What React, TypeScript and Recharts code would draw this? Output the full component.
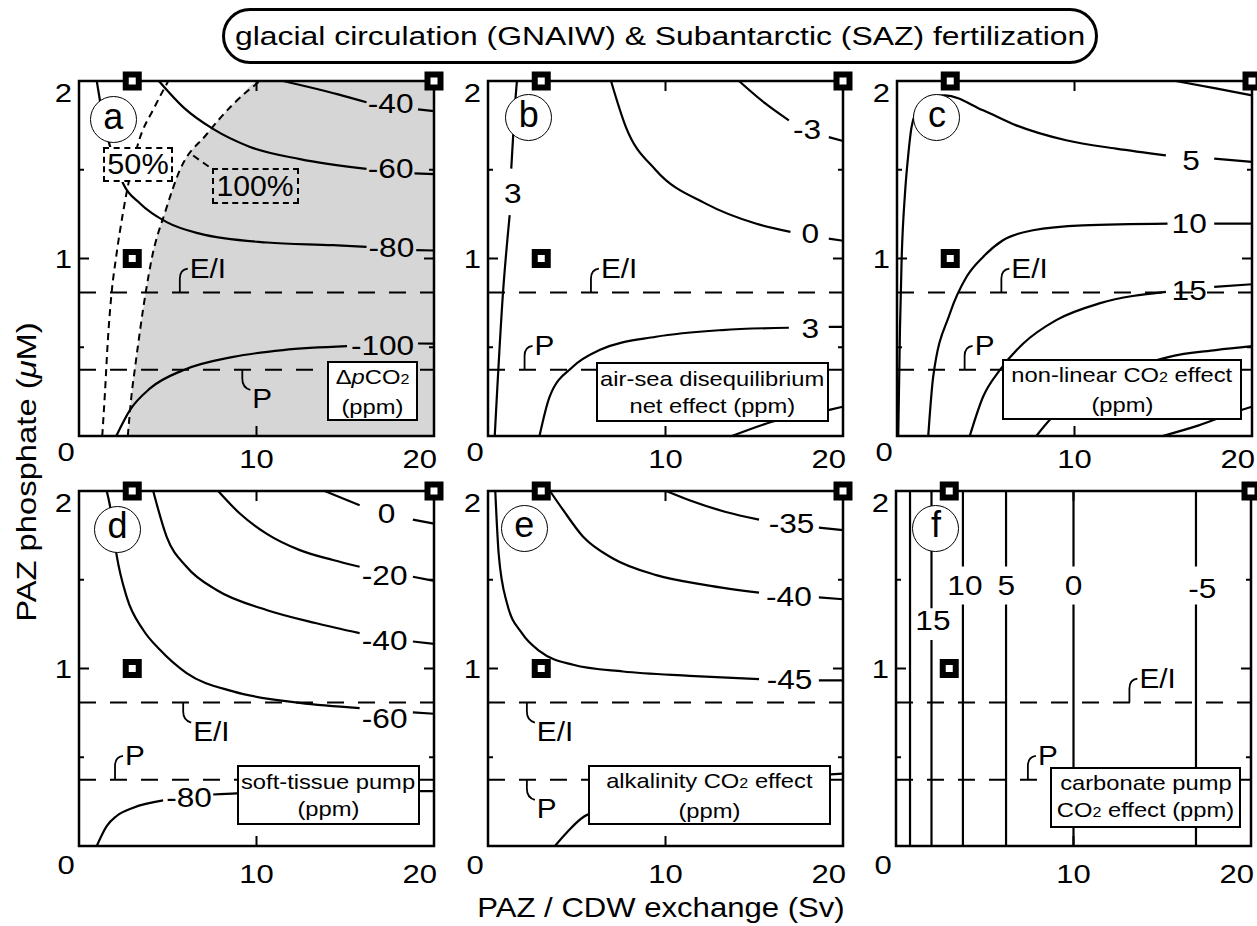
import React from "react";
import {
  ComposedChart,
  Line,
  Area,
  Scatter,
  XAxis,
  YAxis,
  ReferenceLine,
  ReferenceArea,
  ReferenceDot,
} from "recharts";

type Pt = [number, number] | null;
type Tag = [string, number, number];
type Hook = [string, number, "up" | "down"];

const FONT = "'Liberation Sans', Arial, Helvetica, sans-serif";
const PW = 355;
const PH = 355;
const ML = 75;
const MT = 20;
const MR = 25;
const XH = 45;
const GREY = "#d6d6d6";

const X_TICKS = [0, 10, 20];
const Y_TICKS = [0, 0.5, 1, 1.5, 2];
const STATIONS: Pt[] = [[3, 2], [3, 1], [20, 2]];
const EI_LEVEL = 0.808;
const P_LEVEL = 0.373;

// (a) delta pCO2
const A_FIFTY: Pt[] = [[1.31, 0], [1.46, 0.24], [1.62, 0.53], [1.84, 0.81], [2.08, 1.0], [2.5, 1.27], [3.4, 1.67], [4.19, 1.84], [5.03, 2.0]];
const A_HUNDRED: Pt[] = [[2.75, 0], [2.97, 0.24], [3.15, 0.38], [3.76, 0.81], [4.1, 1.0], [4.88, 1.27], [5.69, 1.5], [7.19, 1.7], [8.69, 1.87], [10.2, 2.0]];
const A_LEADER: Pt[] = [[6.43, 1.58], [7.56, 1.5]];
const A_M40: Pt[] = [[11.5, 2.0], [13, 1.965], [14.6, 1.925], [16.2, 1.88], null, [19.1, 1.84], [20, 1.83]];
const A_M60: Pt[] = [[4.5, 2.0], [5.9, 1.85], [7.55, 1.73], [9.6, 1.63], [12.45, 1.56], [16.2, 1.505], null, [18.9, 1.48], [20, 1.475]];
const A_M80: Pt[] = [[1.0, 2.0], [1.18, 1.89], [2.5, 1.42], [3.44, 1.31], [4.94, 1.205], [6.8, 1.14], [10.6, 1.09], [14.3, 1.075], [16.2, 1.065], null, [19.0, 1.047], [20, 1.045]];
const A_M100: Pt[] = [[2.1, 0], [2.87, 0.146], [4.0, 0.268], [5.87, 0.371], [8.7, 0.446], [11.5, 0.484], [15.1, 0.506], null, [19.1, 0.521], [20, 0.52]];
const A_TAGS: Tag[] = [["-40", 17.56, 1.872], ["-60", 17.56, 1.506], ["-80", 17.6, 1.065], ["-100", 17.1, 0.512]];

// (b) air-sea disequilibrium
const B_THREE_L: Pt[] = [[0.38, 0], [0.84, 0.8], [1.22, 1.244], null, [1.31, 1.506], [1.5, 1.835], [1.63, 2.0]];
const B_ZERO: Pt[] = [[6.93, 2.0], [7.77, 1.74], [9.46, 1.497], [12.27, 1.309], [15.08, 1.197], [17.04, 1.15], null, [19.2, 1.112], [20, 1.1]];
const B_M3: Pt[] = [[14.14, 2.0], [15.64, 1.872], [16.95, 1.778], null, [19.2, 1.684], [20, 1.662]];
const B_THREE_R: Pt[] = [[2.9, 0], [3.47, 0.221], [4.78, 0.39], [6.28, 0.484], [9.46, 0.559], [13.2, 0.597], [16.95, 0.61], null, [19.2, 0.615], [20, 0.615]];
const B_SIX: Pt[] = [[13.74, 0], [16.0, 0.08], [19.17, 0.146], [20, 0.165]];
const B_TAGS: Tag[] = [["-3", 17.98, 1.73], ["3", 1.4, 1.366], ["0", 18.15, 1.14], ["3", 18.15, 0.606]];

// (c) non-linear CO2 effect
const C_FIVE: Pt[] = [[0.07, 0], [0.17, 0.615], [0.26, 0.99], [0.45, 1.366], [0.64, 1.59], [0.82, 1.74], [1.3, 1.87], [2.0, 1.915], [2.7, 1.919], [4.85, 1.835], [6.72, 1.75], [9.53, 1.666], [12.34, 1.619], [15.15, 1.581], null, [17.87, 1.563], [20, 1.544]];
const C_TOP: Pt[] = [[15.7, 2.0], [17.96, 1.958], [20, 1.919]];
const C_TEN: Pt[] = [[1.76, 0], [2.04, 0.334], [2.98, 0.69], [3.92, 0.897], [4.85, 1.009], [5.97, 1.103], [7.66, 1.159], [10.47, 1.187], [15.24, 1.197], null, [17.87, 1.197], [20, 1.197]];
const C_FIFTEEN: Pt[] = [[4.1, 0], [4.85, 0.221], [5.79, 0.371], [7.1, 0.52], [8.97, 0.653], [11.4, 0.747], [15.15, 0.812], null, [17.87, 0.84], [20, 0.855]];
const C_TWENTY: Pt[] = [[7.85, 0], [8.6, 0.09], [15.34, 0.446], [17.96, 0.484], [20, 0.506]];
const C_TWENTYFIVE: Pt[] = [[14.96, 0], [17.0, 0.06], [19.37, 0.146], [20, 0.165]];
const C_TAGS: Tag[] = [["5", 16.56, 1.553], ["10", 16.46, 1.197], ["15", 16.46, 0.82]];

// (d) soft-tissue pump
const D_ZERO: Pt[] = [[13.84, 2.0], [15.81, 1.92], null, [18.81, 1.839], [20, 1.816]];
const D_M20: Pt[] = [[7.84, 2.0], [9.06, 1.873], [10.56, 1.76], [12.44, 1.667], [14.31, 1.611], [15.81, 1.573], null, [18.81, 1.517], [20, 1.494]];
const D_M40: Pt[] = [[4.18, 2.0], [4.94, 1.742], [6.06, 1.573], [7.75, 1.442], [10.56, 1.33], [13.38, 1.255], [15.81, 1.199], null, [18.81, 1.152], [20, 1.139]];
const D_M60: Pt[] = [[1.56, 2.0], [1.74, 1.92], [2.12, 1.639], [2.68, 1.405], [3.62, 1.217], [4.56, 1.105], [6.06, 0.974], [8.68, 0.871], [12.44, 0.806], [15.81, 0.777], null, [18.81, 0.753], [20, 0.745]];
const D_M80: Pt[] = [[1.0, 0], [1.56, 0.112], [2.12, 0.169], [3.06, 0.216], [4.74, 0.257], null, [7.56, 0.29], [8.87, 0.296], [19.19, 0.309], [20, 0.309]];
const D_TAGS: Tag[] = [["0", 17.32, 1.873], ["-20", 17.22, 1.526], ["-40", 17.22, 1.161], ["-60", 17.22, 0.721], ["-80", 6.2, 0.272]];

// (e) alkalinity CO2 effect
const E_M35: Pt[] = [[10.04, 2.0], [11.35, 1.948], [13.4, 1.882], [15.27, 1.839], null, [18.64, 1.794], [20, 1.78]];
const E_M40: Pt[] = [[3.49, 2.0], [4.24, 1.892], [5.36, 1.742], [7.04, 1.62], [9.48, 1.526], [12.28, 1.47], [15.27, 1.427], null, [18.64, 1.401], [20, 1.39]];
const E_M45: Pt[] = [[0.41, 2.0], [0.6, 1.648], [1.07, 1.367], [1.91, 1.199], [2.93, 1.096], [4.8, 1.021], [7.6, 0.983], [11.35, 0.959], [15.27, 0.94], null, [18.64, 0.933], [20, 0.933]];
const E_M50: Pt[] = [[3.77, 0], [4.43, 0.075], [5.64, 0.178], [19.29, 0.403], [20, 0.408]];
const E_TAGS: Tag[] = [["-35", 17.1, 1.817], ["-40", 16.95, 1.408], ["-45", 16.99, 0.937]];

// (f) carbonate pump
const F_TWENTY: Pt[] = [[0.79, 0], [0.79, 2]];
const F_FIFTEEN: Pt[] = [[2.0, 0], [2.0, 1.16], null, [2.0, 1.34], [2.0, 2]];
const F_TEN: Pt[] = [[3.77, 0], [3.77, 1.36], null, [3.77, 1.575], [3.77, 2]];
const F_FIVE: Pt[] = [[6.2, 0], [6.2, 1.36], null, [6.2, 1.575], [6.2, 2]];
const F_ZERO: Pt[] = [[10, 0], [10, 1.36], null, [10, 1.575], [10, 2]];
const F_M5: Pt[] = [[16.9, 0], [16.9, 1.36], null, [16.9, 1.575], [16.9, 2]];
const F_TAGS: Tag[] = [["15", 2.08, 1.274], ["10", 3.88, 1.47], ["5", 6.22, 1.47], ["0", 10.0, 1.47], ["-5", 17.26, 1.452]];

const CO2 = (
  <>
    CO<span style={{ fontSize: "0.68em" }}>2</span>
  </>
);

interface Panel {
  id: string;
  left: number;
  top: number;
  row: number;
  lines: Pt[][];
  curve: "monotone" | "linear";
  tags: Tag[];
  hooks: Hook[];
  circle: [number, number];
  box: { dx: number; dy: number; w: number; h: number; text: React.ReactNode[] };
  dashed?: Pt[][];
  shade?: Pt[];
}

const PANELS: Panel[] = [
  {
    id: "a", left: 79, top: 80.5, row: 0, curve: "monotone",
    lines: [A_M40, A_M60, A_M80, A_M100], dashed: [A_FIFTY, A_HUNDRED, A_LEADER], shade: A_HUNDRED,
    tags: A_TAGS, hooks: [["E/I", 5.68, "up"], ["P", 9.2, "down"]], circle: [1.93, 1.78],
    box: { dx: 248, dy: 280.5, w: 91, h: 60, text: [<>Δ<i>p</i>{CO2}</>, "(ppm)"] },
  },
  {
    id: "b", left: 488, top: 80.5, row: 0, curve: "monotone",
    lines: [B_THREE_L, B_ZERO, B_M3, B_THREE_R, B_SIX],
    tags: B_TAGS, hooks: [["E/I", 5.8, "up"], ["P", 2.06, "up"]], circle: [2.29, 1.79],
    box: { dx: 108, dy: 281, w: 233, h: 60, text: ["air-sea disequilibrium", "net effect (ppm)"] },
  },
  {
    id: "c", left: 897, top: 80.5, row: 0, curve: "monotone",
    lines: [C_FIVE, C_TOP, C_TEN, C_FIFTEEN, C_TWENTY, C_TWENTYFIVE],
    tags: C_TAGS, hooks: [["E/I", 5.88, "up"], ["P", 3.81, "up"]], circle: [2.25, 1.79],
    box: { dx: 105, dy: 278.5, w: 240, h: 61, text: [<>non-linear {CO2} effect</>, "(ppm)"] },
  },
  {
    id: "d", left: 79, top: 491, row: 1, curve: "monotone",
    lines: [D_ZERO, D_M20, D_M40, D_M60, D_M80],
    tags: D_TAGS, hooks: [["E/I", 5.87, "down"], ["P", 2.03, "up"]], circle: [2.17, 1.785],
    box: { dx: 158, dy: 274, w: 183, h: 60, text: ["soft-tissue pump", "(ppm)"] },
  },
  {
    id: "e", left: 488, top: 491, row: 1, curve: "monotone",
    lines: [E_M35, E_M40, E_M45, E_M50],
    tags: E_TAGS, hooks: [["E/I", 2.19, "down"], ["P", 2.19, "down"]], circle: [2.04, 1.79],
    box: { dx: 100, dy: 274, w: 243, h: 60, text: [<>alkalinity {CO2} effect</>, "(ppm)"] },
  },
  {
    id: "f", left: 896, top: 491, row: 1, curve: "linear",
    lines: [F_TWENTY, F_FIFTEEN, F_TEN, F_FIVE, F_ZERO, F_M5],
    tags: F_TAGS, hooks: [["E/I", 13.15, "up"], ["P", 7.43, "up"]], circle: [2.25, 1.79],
    box: { dx: 154, dy: 276, w: 191, h: 61, text: ["carbonate pump", <>{CO2} effect (ppm)</>] },
  },
];

function rows(pts: Pt[]) {
  let lastX = 0;
  return pts.map((p) => {
    if (!p) return { x: lastX, y: null };
    lastX = p[0];
    return { x: p[0], y: p[1] };
  });
}

const BASE = [32, 37];
const ZERO_BASE = [25, 28];

function XTick(props: any) {
  const { x, y, payload, row } = props;
  const v = payload.value as number;
  let tx = x;
  let ty = y + BASE[row];
  let anchor: "middle" | "end" = "middle";
  if (v === 0) {
    tx = x - 13;
    ty = y + ZERO_BASE[row];
  }
  if (v === 20) {
    tx = x + 3;
    anchor = "end";
  }
  return (
    <g>
      {v === 10 && <line x1={x} y1={y} x2={x} y2={y - 10} stroke="#000" strokeWidth={2} />}
      {v === 10 && <line x1={x} y1={y - PH} x2={x} y2={y - PH + 10} stroke="#000" strokeWidth={2} />}
      <text transform={`translate(${tx},${ty}) scale(1.17,1)`} textAnchor={anchor} fontSize={26.5} fontFamily={FONT} fill="#000">
        {v}
      </text>
    </g>
  );
}

function YTick(props: any) {
  const { x, y, payload } = props;
  const v = payload.value as number;
  const len = v === 1 ? 10 : v === 0.5 || v === 1.5 ? 5 : 0;
  return (
    <g>
      {len > 0 && <line x1={x} y1={y} x2={x + len} y2={y} stroke="#000" strokeWidth={2} />}
      {len > 0 && <line x1={x + PW} y1={y} x2={x + PW - len} y2={y} stroke="#000" strokeWidth={2} />}
      {(v === 1 || v === 2) && (
        <text transform={`translate(${x - 7},${y + (v === 2 ? 21 : 9)}) scale(1.17,1)`} textAnchor="end" fontSize={26.5} fontFamily={FONT} fill="#000">
          {v}
        </text>
      )}
    </g>
  );
}

const squareShape = (p: any) => (
  <rect x={p.cx - 6.5} y={p.cy - 6.5} width={13} height={13} fill="#fff" stroke="#000" strokeWidth={6} />
);

const tagShape = (label: string) => (p: any) => (
  <text transform={`translate(${p.cx},${p.cy}) scale(1.15,1)`} textAnchor="middle" dominantBaseline="central" fontSize={27.5} fontFamily={FONT} fill="#000">
    {label}
  </text>
);

const hookShape = (label: string, dir: "up" | "down") => (p: any) => {
  const { cx, cy } = p;
  const d =
    dir === "up"
      ? `M${cx},${cy} V${cy - 14} Q${cx},${cy - 23} ${cx + 8},${cy - 24}`
      : `M${cx},${cy} V${cy + 9} Q${cx},${cy + 18} ${cx + 8},${cy + 20}`;
  const ty = dir === "up" ? cy - 15 : cy + 38;
  return (
    <g>
      <path d={d} fill="none" stroke="#000" strokeWidth={1.8} />
      <text transform={`translate(${cx + 10},${ty}) scale(1.1,1)`} fontSize={27} fontFamily={FONT} fill="#000">
        {label}
      </text>
    </g>
  );
};

function PanelChart({ p }: { p: Panel }) {
  return (
    <div style={{ position: "absolute", left: p.left - ML, top: p.top - MT }}>
      <ComposedChart width={ML + PW + MR} height={MT + PH + XH} margin={{ top: MT, right: MR, left: 0, bottom: 0 }}>
        <XAxis
          type="number"
          dataKey="x"
          domain={[0, 20]}
          ticks={X_TICKS}
          interval={0}
          height={XH}
          axisLine={false}
          tickLine={false}
          tickSize={0}
          tickMargin={0}
          tick={(t: any) => <XTick {...t} row={p.row} />}
        />
        <YAxis
          type="number"
          dataKey="y"
          domain={[0, 2]}
          ticks={Y_TICKS}
          interval={0}
          width={ML}
          axisLine={false}
          tickLine={false}
          tickSize={0}
          tickMargin={0}
          tick={(t: any) => <YTick {...t} />}
        />
        {p.shade && (
          <Area
            data={rows([...p.shade, [20, 2]])}
            dataKey="y"
            type="monotone"
            stroke="none"
            fill={GREY}
            fillOpacity={1}
            isAnimationActive={false}
            activeDot={false}
          />
        )}
        <ReferenceLine y={EI_LEVEL} stroke="#000" strokeWidth={2} strokeDasharray="17 14" />
        <ReferenceLine y={P_LEVEL} stroke="#000" strokeWidth={2} strokeDasharray="17 14" />
        {(p.dashed || []).map((d, i) => (
          <Line
            key={`d${i}`}
            data={rows(d)}
            dataKey="y"
            type="monotone"
            stroke="#000"
            strokeWidth={2}
            strokeDasharray="7 5"
            dot={false}
            activeDot={false}
            isAnimationActive={false}
          />
        ))}
        {p.lines.map((d, i) => (
          <Line
            key={`c${i}`}
            data={rows(d)}
            dataKey="y"
            type={p.curve}
            stroke="#000"
            strokeWidth={2.2}
            dot={false}
            activeDot={false}
            connectNulls={false}
            isAnimationActive={false}
          />
        ))}
        <ReferenceArea x1={0} x2={20} y1={0} y2={2} fill="none" fillOpacity={0} stroke="#000" strokeWidth={2.5} />
        <Scatter data={rows(STATIONS)} shape={squareShape} isAnimationActive={false} />
        {p.tags.map((t, i) => (
          <ReferenceDot key={`t${i}`} x={t[1]} y={t[2]} r={1} shape={tagShape(t[0])} />
        ))}
        {p.hooks.map((h, i) => (
          <ReferenceDot key={`h${i}`} x={h[1]} y={h[0] === "P" ? P_LEVEL : EI_LEVEL} r={1} shape={hookShape(h[0], h[2])} />
        ))}
      </ComposedChart>
    </div>
  );
}

const scaled = (s: number, child: React.ReactNode) => (
  <span style={{ display: "inline-block", transform: `scaleX(${s})`, whiteSpace: "nowrap" }}>{child}</span>
);

export default function App() {
  return (
    <div
      style={{
        position: "absolute",
        left: 0,
        top: 0,
        width: 1257,
        height: 926,
        background: "#fff",
        overflow: "hidden",
        fontFamily: FONT,
        color: "#000",
      }}
    >
      {PANELS.map((p) => (
        <PanelChart key={p.id} p={p} />
      ))}

      {PANELS.map((p) => {
        const cx = p.left + (p.circle[0] * PW) / 20;
        const cy = p.top + ((2 - p.circle[1]) * PH) / 2;
        return (
          <div
            key={`circ-${p.id}`}
            style={{
              position: "absolute",
              left: cx - 23.5,
              top: cy - 23.5,
              width: 47,
              height: 47,
              boxSizing: "border-box",
              border: "1.6px solid #000",
              borderRadius: "50%",
              background: "#fff",
              display: "flex",
              alignItems: "center",
              justifyContent: "center",
              fontSize: 36,
              lineHeight: 1,
            }}
          >
            <span style={{ position: "relative", top: -3 }}>{p.id}</span>
          </div>
        );
      })}

      {PANELS.map((p) => (
        <div
          key={`box-${p.id}`}
          style={{
            position: "absolute",
            left: p.left + p.box.dx,
            top: p.top + p.box.dy,
            width: p.box.w,
            height: p.box.h,
            boxSizing: "border-box",
            border: "2px solid #000",
            background: "#fff",
            display: "flex",
            flexDirection: "column",
            alignItems: "center",
            justifyContent: "center",
            fontSize: 21,
            lineHeight: "27px",
          }}
        >
          {p.box.text.map((t, i) => (
            <div key={i}>{scaled(1.13, t)}</div>
          ))}
        </div>
      ))}

      <div
        style={{
          position: "absolute",
          left: 103,
          top: 147,
          width: 70,
          height: 35,
          boxSizing: "border-box",
          border: "2px dashed #000",
          background: "#fff",
          display: "flex",
          alignItems: "center",
          justifyContent: "center",
          fontSize: 29,
          lineHeight: 1,
        }}
      >
        {scaled(1.06, "50%")}
      </div>
      <div
        style={{
          position: "absolute",
          left: 212,
          top: 168,
          width: 87,
          height: 36,
          boxSizing: "border-box",
          border: "2px dashed #000",
          display: "flex",
          alignItems: "center",
          justifyContent: "center",
          fontSize: 29,
          lineHeight: 1,
        }}
      >
        {scaled(1.04, "100%")}
      </div>

      <div
        style={{
          position: "absolute",
          left: 222,
          top: 8,
          width: 876,
          height: 56,
          boxSizing: "border-box",
          border: "3px solid #000",
          borderRadius: 28,
          display: "flex",
          alignItems: "center",
          justifyContent: "center",
          fontSize: 25.5,
        }}
      >
        {scaled(1.25, "glacial circulation (GNAIW) & Subantarctic (SAZ) fertilization")}
      </div>

      <div
        style={{
          position: "absolute",
          left: 27,
          top: 472,
          transform: "translate(-50%, -50%) rotate(-90deg) scaleX(1.17)",
          whiteSpace: "nowrap",
          fontSize: 28,
        }}
      >
        PAZ phosphate (<i>μ</i>M)
      </div>

      <div
        style={{
          position: "absolute",
          left: 661,
          top: 908,
          transform: "translate(-50%, -50%) scaleX(1.11)",
          whiteSpace: "nowrap",
          fontSize: 28,
        }}
      >
        PAZ / CDW exchange (Sv)
      </div>
    </div>
  );
}
